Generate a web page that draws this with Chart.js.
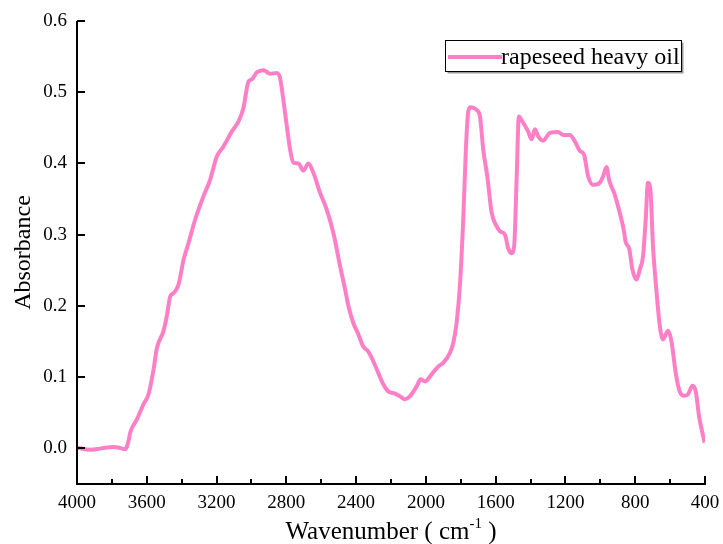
<!DOCTYPE html>
<html>
<head>
<meta charset="utf-8">
<script src="https://cdn.jsdelivr.net/npm/chart.js@4.4.1/dist/chart.umd.min.js"></script>
<style>
  html, body { margin: 0; padding: 0; background: #fff; }
  #wrap { width: 723px; height: 544px; position: relative; }
</style>
</head>
<body>
<div id="wrap"><canvas id="c" width="723" height="544"></canvas></div>
<script>
// FTIR spectrum of rapeseed heavy oil
const seriesLabel = 'rapeseed heavy oil';
const wavenumber = [
  4000, 3924, 3860, 3792, 3760, 3723, 3705, 3695, 3656, 3619, 3590, 3561, 3542, 3504,
  3485, 3466, 3447, 3418, 3389, 3361, 3323, 3275, 3237, 3198, 3160, 3112, 3074, 3046, 3017,
  2998, 2969, 2931, 2893, 2855, 2836, 2817, 2797, 2778, 2760, 2731, 2702, 2674, 2645,
  2607, 2568, 2530, 2492, 2463, 2444, 2416, 2387, 2359, 2330, 2301, 2273, 2244, 2216,
  2177, 2148, 2120, 2092, 2053, 2030, 2005, 1967, 1929, 1901, 1862, 1843, 1824, 1805, 1786, 1770,
  1757, 1744, 1709, 1690, 1671, 1648, 1623, 1595, 1576, 1547, 1528, 1509, 1494, 1480,
  1467, 1452, 1414, 1394, 1375, 1356, 1328, 1289, 1242, 1213, 1175, 1146, 1118, 1093,
  1070, 1041, 1003, 984, 965, 950, 917, 889, 866, 854, 835, 816, 793, 774,
  755, 740, 727, 713, 698, 679, 659, 641, 612, 592, 568, 545, 516, 497,
  472, 453, 434, 415, 402
];
const absorbance = [
  0.001, -0.002, 0.000, 0.002, 0.001, -0.001, 0.010, 0.022, 0.041, 0.062, 0.076, 0.111, 0.141, 0.165,
  0.186, 0.213, 0.218, 0.230, 0.265, 0.288, 0.321, 0.354, 0.377, 0.410, 0.424, 0.445, 0.459, 0.478, 0.515,
  0.518, 0.528, 0.531, 0.526, 0.527, 0.520, 0.489, 0.452, 0.419, 0.401, 0.400, 0.390, 0.400, 0.387,
  0.359, 0.335, 0.302, 0.256, 0.223, 0.200, 0.176, 0.160, 0.143, 0.136, 0.122, 0.106, 0.090, 0.080,
  0.077, 0.073, 0.069, 0.073, 0.087, 0.097, 0.094, 0.104, 0.115, 0.120, 0.134, 0.148, 0.176, 0.228, 0.321, 0.424,
  0.473, 0.479, 0.475, 0.466, 0.419, 0.382, 0.331, 0.312, 0.305, 0.300, 0.281, 0.274, 0.284, 0.377,
  0.466, 0.461, 0.445, 0.434, 0.448, 0.438, 0.432, 0.443, 0.444, 0.440, 0.440, 0.431, 0.418, 0.412,
  0.382, 0.370, 0.373, 0.382, 0.395, 0.377, 0.356, 0.331, 0.307, 0.289, 0.281, 0.251, 0.237, 0.251,
  0.270, 0.321, 0.373, 0.363, 0.284, 0.223, 0.172, 0.153, 0.165, 0.150, 0.106, 0.080, 0.074, 0.076,
  0.088, 0.080, 0.045, 0.022, 0.008
];
const xTickValues = [4000, 3600, 3200, 2800, 2400, 2000, 1600, 1200, 800, 400];
const yTickValues = [0.0, 0.1, 0.2, 0.3, 0.4, 0.5, 0.6];

const LINE_COLOR = '#ff7fc6';
const SERIF = '"Liberation Serif", "Times New Roman", serif';

// Inward-pointing tick marks, axis spines, x title with superscript, boxed legend
const framePlugin = {
  id: 'frame',
  afterDraw(chart) {
    const ctx = chart.ctx;
    const xs = chart.scales.x, ys = chart.scales.y;
    const { left, right, top, bottom } = chart.chartArea;
    ctx.save();
    ctx.strokeStyle = '#000';
    ctx.lineWidth = 2;
    ctx.lineCap = 'butt';
    // spines
    ctx.beginPath();
    ctx.moveTo(left, top);
    ctx.lineTo(left, bottom + 1);
    ctx.moveTo(left - 1, bottom);
    ctx.lineTo(right + 1, bottom);
    ctx.stroke();
    // x ticks: major every 400, minor every 200
    ctx.beginPath();
    for (let v = xs.min; v <= xs.max + 1e-6; v += 200) {
      const px = Math.round(xs.getPixelForValue(v));
      const major = Math.abs(v % 400) < 1e-6;
      ctx.moveTo(px, bottom);
      ctx.lineTo(px, bottom - (major ? 8 : 5));
    }
    // y ticks
    ys.ticks.forEach(t => {
      const py = Math.round(ys.getPixelForValue(t.value));
      ctx.moveTo(left, py);
      ctx.lineTo(left + 8, py);
    });
    ctx.stroke();

    // x-axis title: Wavenumber ( cm^-1 )
    const cx = (left + right) / 2;
    const base = 539;
    const big = '25px ' + SERIF, small = '15px ' + SERIF;
    const partA = 'Wavenumber ( cm', sup = '-1', partB = ' )';
    ctx.fillStyle = '#000';
    ctx.textBaseline = 'alphabetic';
    ctx.textAlign = 'left';
    ctx.font = big; const wA = ctx.measureText(partA).width; const wB = ctx.measureText(partB).width;
    ctx.font = small; const wS = ctx.measureText(sup).width;
    let x0 = cx - (wA + wS + wB) / 2;
    ctx.font = big; ctx.fillText(partA, x0, base);
    ctx.font = small; ctx.fillText(sup, x0 + wA, base - 11);
    ctx.font = big; ctx.fillText(partB, x0 + wA + wS, base);

    // legend box
    const bx = 445.5, by = 40.5, bw = 236, bh = 31;
    ctx.strokeStyle = '#999';
    ctx.lineWidth = 2;
    ctx.beginPath();
    ctx.moveTo(bx + bw + 1, by + 2);
    ctx.lineTo(bx + bw + 1, by + bh + 1);
    ctx.lineTo(bx + 2, by + bh + 1);
    ctx.stroke();
    ctx.strokeStyle = '#000';
    ctx.lineWidth = 1;
    ctx.strokeRect(bx, by, bw, bh);
    ctx.strokeStyle = LINE_COLOR;
    ctx.lineWidth = 4;
    ctx.beginPath();
    ctx.moveTo(448, 57);
    ctx.lineTo(502, 57);
    ctx.stroke();
    ctx.fillStyle = '#000';
    ctx.font = '24px ' + SERIF;
    ctx.fillText(chart.data.datasets[0].label, 501, 64);
    ctx.restore();
  }
};

const points = wavenumber.map((w, i) => ({ x: w, y: absorbance[i] }));

new Chart(document.getElementById('c'), {
  type: 'line',
  data: {
    datasets: [{
      label: seriesLabel,
      data: points,
      borderColor: LINE_COLOR,
      borderWidth: 4,
      pointRadius: 0,
      fill: false,
      cubicInterpolationMode: 'monotone'
    }]
  },
  options: {
    responsive: false,
    animation: false,
    layout: { padding: { left: 0, right: 18, top: 21, bottom: 0 } },
    plugins: { legend: { display: false }, tooltip: { enabled: false } },
    scales: {
      x: {
        type: 'linear',
        reverse: true,
        min: 400,
        max: 4000,
        afterBuildTicks(scale) { scale.ticks = xTickValues.map(v => ({ value: v })); },
        afterFit(scale) { scale.height = 60; scale.paddingLeft = 0; scale.paddingRight = 0; },
        border: { display: false },
        grid: { display: false, drawTicks: false },
        ticks: {
          autoSkip: false,
          maxRotation: 0,
          padding: 8,
          color: '#000',
          font: { family: SERIF, size: 19 },
          callback: v => String(v)
        }
      },
      y: {
        min: -0.05,
        max: 0.6,
        afterBuildTicks(scale) { scale.ticks = yTickValues.map(v => ({ value: v })); },
        afterFit(scale) { scale.width = 77; scale.paddingTop = 0; scale.paddingBottom = 0; },
        border: { display: false },
        grid: { display: false, drawTicks: false },
        title: {
          display: true,
          text: 'Absorbance',
          color: '#000',
          font: { family: SERIF, size: 24 },
          padding: { top: 9, bottom: 0 }
        },
        ticks: {
          padding: 10,
          color: '#000',
          font: { family: SERIF, size: 19 },
          callback: v => Number(v).toFixed(1)
        }
      }
    }
  },
  plugins: [framePlugin]
});
</script>
</body>
</html>
